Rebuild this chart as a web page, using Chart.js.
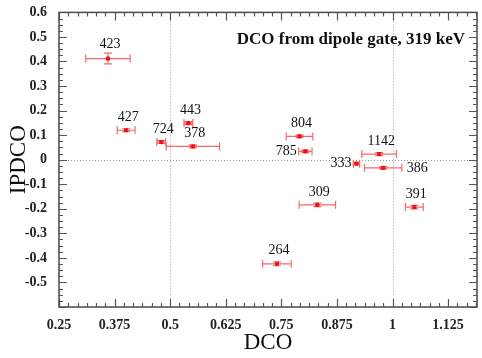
<!DOCTYPE html>
<html lang="en">
<head>
    <meta charset="UTF-8">
    <title>IPDCO vs DCO</title>
    <style>
        html, body { margin: 0; padding: 0; background: #fff; }
        #grafico { display: block; }
    </style>
    <script src="https://cdn.jsdelivr.net/npm/chart.js"></script>
</head>
<body>
    <div style="width:482px;height:358px;">
        <canvas id="grafico" width="482" height="358"></canvas>
    </div>

    <script>
        // Transições (keV) e valores medidos
        const energias = ['423', '427', '443', '724', '378', '804', '785', '1142', '333', '386', '309', '391', '264'];
        const dco      = [0.360, 0.401, 0.541, 0.480, 0.551, 0.791, 0.804, 0.970, 0.919, 0.979, 0.831, 1.049, 0.740];
        const dcoErro  = [0.050, 0.020, 0.010, 0.010, 0.060, 0.030, 0.015, 0.039, 0.007, 0.042, 0.041, 0.020, 0.032];
        const ipdco    = [0.412, 0.120, 0.149, 0.072, 0.054, 0.095, 0.034, 0.023, -0.016, -0.033, -0.184, -0.193, -0.424];
        const ipdcoErro = [0.022, 0.006, 0.006, 0.006, 0.006, 0.005, 0.005, 0.006, 0.005, 0.005, 0.007, 0.007, 0.008];

        const ticksX = [0.25, 0.375, 0.5, 0.625, 0.75, 0.875, 1, 1.125];
        const ticksY = [0.6, 0.5, 0.4, 0.3, 0.2, 0.1, 0, -0.1, -0.2, -0.3, -0.4, -0.5];

        const pontos = dco.map((x, i) => ({ x: x, y: ipdco[i] }));

        // Lado do rótulo para os pontos que não ficam por cima
        const ladoRotulo = { '785': 'left', '333': 'left', '386': 'right' };

        // Barras de erro, rótulos, linhas pontilhadas e marcas dos eixos
        const extras = {
            id: 'extras',
            beforeDatasetsDraw(chart) {
                const { ctx, chartArea: a, scales: { x, y } } = chart;
                ctx.save();

                // linhas pontilhadas em x = 0.5, x = 1 e y = 0
                ctx.strokeStyle = '#9a9a9a';
                ctx.lineWidth = 1;
                ctx.setLineDash([1, 2]);
                [0.5, 1].forEach(v => {
                    const px = Math.round(x.getPixelForValue(v)) + 0.5;
                    ctx.beginPath(); ctx.moveTo(px, a.top); ctx.lineTo(px, a.bottom); ctx.stroke();
                });
                const py0 = Math.round(y.getPixelForValue(0)) + 0.5;
                ctx.beginPath(); ctx.moveTo(a.left, py0); ctx.lineTo(a.right, py0); ctx.stroke();
                ctx.setLineDash([]);

                // barras de erro
                ctx.strokeStyle = '#f26a6a';
                ctx.lineWidth = 1.2;
                pontos.forEach((p, i) => {
                    const px = x.getPixelForValue(p.x);
                    const py = y.getPixelForValue(p.y);
                    const x1 = x.getPixelForValue(p.x - dcoErro[i]);
                    const x2 = x.getPixelForValue(p.x + dcoErro[i]);
                    const y1 = y.getPixelForValue(p.y - ipdcoErro[i]);
                    const y2 = y.getPixelForValue(p.y + ipdcoErro[i]);
                    ctx.beginPath();
                    ctx.moveTo(x1, py); ctx.lineTo(x2, py);
                    ctx.moveTo(x1, py - 4); ctx.lineTo(x1, py + 4);
                    ctx.moveTo(x2, py - 4); ctx.lineTo(x2, py + 4);
                    ctx.moveTo(px, y1); ctx.lineTo(px, y2);
                    ctx.moveTo(px - 4, y1); ctx.lineTo(px + 4, y1);
                    ctx.moveTo(px - 4, y2); ctx.lineTo(px + 4, y2);
                    ctx.stroke();
                });

                // marcas dos eixos (para dentro, nos quatro lados)
                ctx.strokeStyle = '#555';
                ctx.lineWidth = 1.2;
                for (let k = 0; k <= 46; k++) {
                    const v = 0.25 + k * 0.125 / 6;
                    if (v > x.max) break;
                    const px = Math.round(x.getPixelForValue(v)) + 0.5;
                    const len = k % 6 === 0 ? 8 : 4;
                    ctx.beginPath();
                    ctx.moveTo(px, a.bottom); ctx.lineTo(px, a.bottom - len);
                    ctx.moveTo(px, a.top); ctx.lineTo(px, a.top + len);
                    ctx.stroke();
                }
                for (let k = 0; k <= 48; k++) {
                    const v = -0.6 + k * 0.025;
                    const py = Math.round(y.getPixelForValue(v)) + 0.5;
                    const len = k % 4 === 0 ? 8 : 4;
                    ctx.beginPath();
                    ctx.moveTo(a.left, py); ctx.lineTo(a.left + len, py);
                    ctx.moveTo(a.right, py); ctx.lineTo(a.right - len, py);
                    ctx.stroke();
                }

                // moldura
                ctx.strokeStyle = '#4a4a4a';
                ctx.lineWidth = 1.5;
                ctx.strokeRect(a.left, a.top, a.right - a.left, a.bottom - a.top);
                ctx.restore();
            },
            afterDatasetsDraw(chart) {
                const { ctx, chartArea: a, scales: { x, y } } = chart;
                ctx.save();
                ctx.fillStyle = '#111';
                ctx.font = '14px "Liberation Serif", "Times New Roman", serif';
                pontos.forEach((p, i) => {
                    const px = x.getPixelForValue(p.x);
                    const py = y.getPixelForValue(p.y);
                    const lado = ladoRotulo[energias[i]];
                    if (lado === 'left') {
                        ctx.textAlign = 'right'; ctx.textBaseline = 'middle';
                        ctx.fillText(energias[i], x.getPixelForValue(p.x - dcoErro[i]) - 2, py);
                    } else if (lado === 'right') {
                        ctx.textAlign = 'left'; ctx.textBaseline = 'middle';
                        ctx.fillText(energias[i], x.getPixelForValue(p.x + dcoErro[i]) + 5, py + 1);
                    } else {
                        ctx.textAlign = 'center'; ctx.textBaseline = 'bottom';
                        const topo = y.getPixelForValue(p.y + ipdcoErro[i]);
                        ctx.fillText(energias[i], px + 2, Math.min(topo, py - 4) - 2);
                    }
                });

                ctx.font = 'bold 17px "Liberation Serif", "Times New Roman", serif';
                ctx.textAlign = 'right';
                ctx.textBaseline = 'middle';
                ctx.fillText('DCO from dipole gate, 319 keV', a.right - 12, a.top + 27);
                ctx.restore();
            }
        };

        const fonteEixo = { family: '"Liberation Serif", "Times New Roman", serif', size: 14, weight: 'bold' };

        const chart = new Chart(document.getElementById('grafico'), {
            type: 'scatter',
            data: {
                datasets: [{
                    data: pontos,
                    backgroundColor: '#e8151b',
                    borderColor: '#e8151b',
                    pointRadius: 2.2,
                    pointStyle: 'rect'
                }]
            },
            options: {
                responsive: false,
                animation: false,
                plugins: { legend: { display: false }, tooltip: { enabled: false } },
                layout: { padding: { top: 12, right: 2 } },
                scales: {
                    x: {
                        type: 'linear',
                        min: 0.25,
                        max: 1.19,
                        afterBuildTicks: s => { s.ticks = ticksX.map(v => ({ value: v })); },
                        afterFit: s => { s.height = 51; },
                        grid: { display: false },
                        border: { display: false },
                        ticks: {
                            font: fonteEixo,
                            color: '#222',
                            padding: 2,
                            maxRotation: 0,
                            autoSkip: false,
                            callback: v => String(v)
                        },
                        title: {
                            display: true,
                            text: 'DCO',
                            color: '#111',
                            font: { family: '"Liberation Serif", "Times New Roman", serif', size: 23 },
                            padding: { top: 0, bottom: 1 }
                        }
                    },
                    y: {
                        type: 'linear',
                        min: -0.6,
                        max: 0.6,
                        afterBuildTicks: s => { s.ticks = ticksY.map(v => ({ value: v })); },
                        afterFit: s => { s.width = 59; },
                        grid: { display: false },
                        border: { display: false },
                        ticks: {
                            font: fonteEixo,
                            color: '#222',
                            padding: 4,
                            autoSkip: false,
                            callback: v => String(Math.round(v * 10) / 10)
                        },
                        title: {
                            display: true,
                            text: 'IPDCO',
                            color: '#111',
                            font: { family: '"Liberation Serif", "Times New Roman", serif', size: 23 },
                            padding: { top: 5, bottom: 0 }
                        }
                    }
                }
            },
            plugins: [extras]
        });
    </script>
</body>
</html>
